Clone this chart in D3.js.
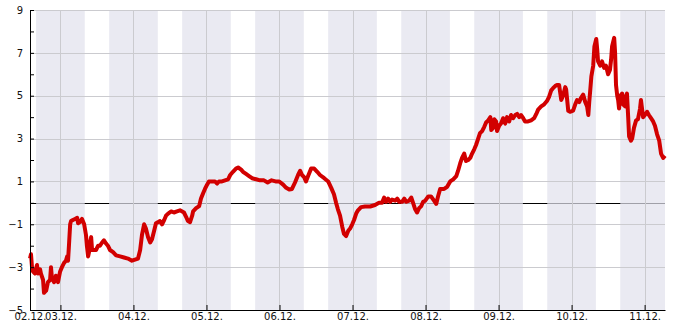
<!DOCTYPE html>
<html>
<head>
<meta charset="utf-8">
<script src="https://cdn.jsdelivr.net/npm/d3@7"></script>
<style>
  body { margin: 0; background: #fff; }
  svg text { font-family: "DejaVu Sans", sans-serif; font-size: 10px; fill: #111; }
</style>
</head>
<body>
<svg id="chart"></svg>
<script>
// hours after the first reading (02.12. 14:00)
var hours = [
  0, 0.33, 0.66, 1.0, 1.6, 2.3, 2.6, 3.3, 3.6, 4.3, 4.6, 5.3, 5.9, 6.6, 6.9, 7.2, 7.9, 8.5, 9.2, 9.9,
  10.5, 11.2, 11.8, 12.2, 12.5, 12.8, 13.2, 13.5, 14.1, 14.8, 15.5, 15.8, 16.4, 17.1, 17.8, 18.4, 18.7, 19.1, 19.4, 19.7,
  20.1, 20.4, 21.0, 21.7, 22.4, 23.0, 23.7, 24.3, 25.0, 25.6, 26.3, 27.3, 28.3, 29.6, 30.9, 32.2, 33.5, 34.5,
  35.5, 36.2, 36.8, 37.5, 38.1, 38.8, 39.5, 40.1, 40.8, 41.4, 42.1, 42.7, 43.4, 44.1, 44.7, 45.4, 46.4, 47.3, 48.3, 49.3,
  50.6, 51.3, 51.9, 52.6, 53.3, 53.6, 54.6, 55.6, 56.2, 56.9, 57.5, 58.2, 58.8, 59.8, 60.8, 61.5, 62.1, 63.1, 64.1, 65.1,
  65.8, 66.7, 67.7, 68.4, 69.4, 70.0,
  71.0, 72.0, 73.0, 74.3, 75.6, 76.9, 78.1, 79.4, 80.7, 81.9, 83.2, 84.2, 85.2, 86.1, 87.1, 88.1, 88.8, 89.4, 90.1, 90.7,
  91.4, 92.4, 93.4, 94.4, 95.3, 96.7, 98.0, 99.0, 99.9, 100.6, 101.2, 101.9, 102.6, 103.2, 103.9, 104.6, 105.2, 105.9, 106.5, 107.2,
  107.8, 108.8, 110.1, 111.8, 113.4, 114.7, 115.7, 116.4, 117.0, 117.7, 118.4, 119.0, 120.0, 120.7, 121.3, 122.3, 123.0, 123.6, 124.6, 125.3,
  125.9, 126.6, 127.2, 127.9, 128.6, 129.2, 129.9, 130.9, 131.8, 132.8, 133.5, 134.1, 134.8, 136.1, 137.1, 138.1, 139.1, 140.1, 140.7, 141.4,
  142.0, 142.7, 143.3, 144.0,
  144.7, 145.3, 146.0, 146.6, 147.3, 147.9, 148.6, 149.3, 149.9, 150.6, 151.3, 151.6, 152.2, 152.6, 153.2, 153.5, 154.2, 154.8, 155.5, 156.2,
  156.8, 157.5, 158.1, 158.8, 159.5, 160.1, 160.8, 161.4, 162.1, 162.7, 163.7, 164.7, 165.7, 166.4, 167.0, 168.0, 169.0, 169.9, 170.6, 171.3,
  171.9, 172.6, 173.2, 173.9, 174.2, 174.6, 175.2, 175.9, 176.2, 176.9, 177.5, 178.5, 179.2,
  179.8, 180.5, 181.1, 181.8, 182.5, 183.1, 183.5, 183.8, 184.1, 184.5, 185.1, 185.5, 186.1, 186.4, 186.7, 187.4, 188.0, 188.7, 189.3, 190.0,
  190.6, 191.0, 191.3, 192.0, 192.3, 192.6, 193.0, 193.3, 193.6, 194.0, 194.6, 194.9, 195.6, 195.9, 196.2, 196.6, 196.9, 197.5, 197.9, 198.5,
  199.2, 199.8, 200.5, 200.8, 201.5, 202.1, 202.8, 203.4, 204.1, 204.8, 205.4, 206.1, 206.8, 207.4, 208.1, 208.7
];

var values = [
  -2.6, -2.4, -3.0, -3.2, -3.3, -2.9, -3.3, -3.1, -3.3, -3.6, -4.2, -4.1, -3.7, -3.6, -3.0, -3.5, -3.7, -3.4, -3.7, -3.2,
  -3.0, -2.8, -2.7, -2.5, -2.7, -2.0, -1.0, -0.85, -0.8, -0.75, -0.7, -0.95, -0.9, -0.75, -1.0, -1.5, -2.0, -2.5, -2.3, -1.9,
  -1.6, -2.2, -2.2, -2.2, -2.0, -2.0, -1.85, -1.75, -1.9, -2.0, -2.2, -2.3, -2.45, -2.5, -2.55, -2.6, -2.7, -2.65,
  -2.6, -2.2, -1.5, -1.0, -1.2, -1.6, -1.85, -1.7, -1.3, -0.95, -0.9, -0.85, -1.0, -0.8, -0.6, -0.5, -0.4, -0.45, -0.4, -0.35,
  -0.45, -0.65, -0.85, -0.9, -0.6, -0.4, -0.25, -0.15, 0.2, 0.45, 0.65, 0.85, 1.0, 1.0, 1.0, 0.9, 1.0, 1.0, 1.05, 1.1,
  1.3, 1.45, 1.6, 1.65, 1.55, 1.45,
  1.35, 1.25, 1.15, 1.1, 1.05, 1.05, 0.95, 1.05, 1.0, 1.0, 0.85, 0.7, 0.62, 0.65, 0.95, 1.3, 1.5, 1.3, 1.2, 1.0,
  1.25, 1.6, 1.6, 1.45, 1.3, 1.15, 1.0, 0.7, 0.4, 0.0, -0.3, -0.6, -1.1, -1.45, -1.55, -1.3, -1.2, -1.0, -0.8, -0.5,
  -0.35, -0.2, -0.17, -0.17, -0.1, 0.0, 0.0, 0.25, 0.05, 0.2, 0.05, 0.15, 0.1, 0.2, 0.05, 0.05, 0.2, 0.05, 0.1, 0.25,
  0.0, -0.3, -0.45, -0.25, -0.15, 0.05, 0.1, 0.3, 0.3, 0.1, -0.05, 0.3, 0.65, 0.65, 0.75, 1.0, 1.1, 1.25, 1.5, 1.85,
  2.1, 2.3, 1.95, 2.0,
  2.1, 2.3, 2.5, 2.7, 3.0, 3.25, 3.35, 3.55, 3.75, 3.85, 4.0, 3.4, 3.5, 3.9, 3.8, 3.35, 3.6, 3.7, 3.95, 3.7,
  4.0, 3.8, 4.1, 3.95, 4.1, 4.15, 4.0, 4.1, 3.95, 3.8, 3.8, 3.85, 3.95, 4.15, 4.35, 4.5, 4.6, 4.75, 4.95, 5.25,
  5.35, 5.45, 5.5, 5.5, 5.2, 4.8, 5.0, 5.4, 5.3, 4.3, 4.25, 4.3, 4.6,
  4.8, 4.7, 4.9, 5.05, 4.7, 4.5, 4.1, 4.7, 5.2, 5.9, 6.4, 7.3, 7.65, 7.2, 6.6, 6.4, 6.6, 6.3, 6.4, 6.0,
  6.2, 6.7, 7.3, 7.7, 7.0, 5.5, 5.0, 4.8, 4.4, 5.0, 5.1, 4.6, 4.5, 5.0, 5.1, 4.0, 3.1, 2.9, 3.0, 3.5,
  3.85, 3.9, 4.4, 4.8, 4.0, 4.1, 4.25, 4.1, 3.95, 3.8, 3.6, 3.2, 2.9, 2.3, 2.1, 2.2
];

var yLabelTicks = [-5, -3, -1, 1, 3, 5, 7, 9];
var yMinorTicks = [-4, -2, 0, 2, 4, 6, 8];
var nightStart = 16, nightEnd = 8;   // shaded hours

var start = new Date(2019, 11, 2, 14, 0);
var data = hours.map(function(h, i) {
  return { t: new Date(+start + h * 3600e3), v: values[i] };
});

var W = 685, H = 330,
    plotLeft = 30, plotRight = 665, plotTop = 10, plotBottom = 310;

var svg = d3.select("#chart").attr("width", W).attr("height", H);

var x = d3.scaleTime()
  .domain([start, data[data.length - 1].t])
  .range([plotLeft, plotRight]);
var y = d3.scaleLinear().domain([-5, 9]).range([plotBottom, plotTop]);

var days = d3.timeDay.range(d3.timeDay.ceil(start), x.domain()[1]);

// zero line (below the night bands so it looks grey inside them)
svg.append("line")
  .attr("x1", plotLeft).attr("x2", plotRight)
  .attr("y1", Math.round(y(0)) + 0.5).attr("y2", Math.round(y(0)) + 0.5)
  .attr("stroke", "#000");

// night bands
var nights = d3.timeDay.range(d3.timeDay.floor(start), x.domain()[1]).map(function(d) {
  var a = d3.timeHour.offset(d, nightStart),
      b = d3.timeHour.offset(d, 24 + nightEnd);
  return [a < start ? start : a, b > x.domain()[1] ? x.domain()[1] : b];
}).filter(function(n) { return n[0] < n[1]; });

svg.append("g").selectAll("rect").data(nights).enter().append("rect")
  .attr("x", function(d) { return x(d[0]); })
  .attr("width", function(d) { return x(d[1]) - x(d[0]); })
  .attr("y", plotTop).attr("height", plotBottom - plotTop)
  .attr("fill", "rgb(225,226,236)")
  .attr("fill-opacity", 0.71);

// grid
svg.append("g").selectAll("line").data(yLabelTicks.filter(function(v) { return v > -5; }))
  .enter().append("line")
  .attr("x1", plotLeft).attr("x2", plotRight)
  .attr("y1", function(d) { return Math.round(y(d)) + 0.5; })
  .attr("y2", function(d) { return Math.round(y(d)) + 0.5; })
  .attr("stroke", "#cbcbcf");

svg.append("g").selectAll("line").data(days).enter().append("line")
  .attr("x1", function(d) { return Math.round(x(d)) + 0.5; })
  .attr("x2", function(d) { return Math.round(x(d)) + 0.5; })
  .attr("y1", plotTop).attr("y2", plotBottom)
  .attr("stroke", "#cbcbcf");

// the series
var line = d3.line()
  .x(function(d) { return x(d.t); })
  .y(function(d) { return y(d.v); });

svg.append("path")
  .datum(data)
  .attr("d", line)
  .attr("fill", "none")
  .attr("stroke", "#d20000")
  .attr("stroke-width", 4)
  .attr("stroke-linejoin", "round");

// axes
svg.append("g")
  .attr("transform", "translate(0," + plotBottom + ")")
  .call(d3.axisBottom(x)
    .tickValues([start].concat(days))
    .tickFormat(d3.timeFormat("%d.%m."))
    .tickSizeInner(-5).tickSizeOuter(0).tickPadding(3));

svg.append("g")
  .attr("transform", "translate(" + plotLeft + ",0)")
  .call(d3.axisLeft(y)
    .tickValues(yLabelTicks)
    .tickSizeInner(-4).tickSizeOuter(0).tickPadding(7));

svg.append("g")
  .attr("transform", "translate(" + plotLeft + ",0)")
  .call(d3.axisLeft(y)
    .tickValues(yMinorTicks)
    .tickFormat("")
    .tickSizeInner(-4).tickSizeOuter(0))
  .select(".domain").remove();

svg.selectAll(".tick text").attr("font-family", "DejaVu Sans").attr("font-size", 10).attr("fill", "#111");
svg.selectAll(".domain, .tick line").attr("stroke", "#000");
</script>
</body>
</html>
